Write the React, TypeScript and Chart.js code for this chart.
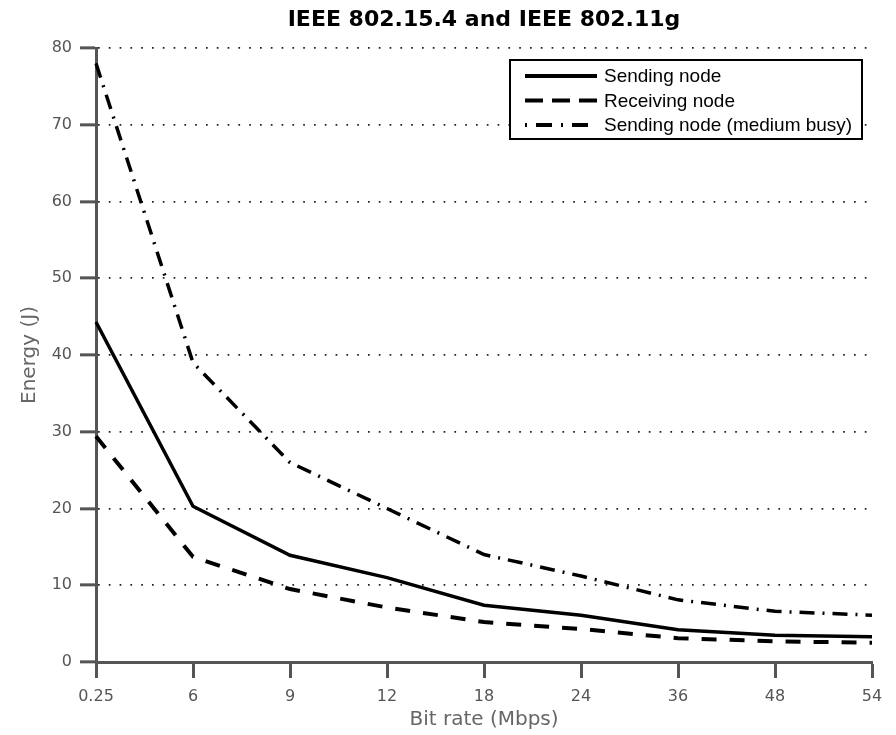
import React, { useEffect, useRef } from "react";
import { Chart, registerables } from "chart.js";

Chart.register(...registerables);

const categories = ["0.25", "6", "9", "12", "18", "24", "36", "48", "54"];
const sendingNode = [44.3, 20.3, 13.9, 11.0, 7.4, 6.1, 4.2, 3.5, 3.3];
const receivingNode = [29.4, 13.7, 9.5, 7.1, 5.2, 4.3, 3.1, 2.7, 2.5];
const sendingBusy = [78.0, 39.0, 26.0, 20.0, 14.0, 11.2, 8.1, 6.6, 6.1];
const yTicks = [0, 10, 20, 30, 40, 50, 60, 70, 80];
const chartTitle = "IEEE 802.15.4 and IEEE 802.11g";

const legendDash: number[][] = [[], [18, 9], [2, 9, 16, 9]];

const titleAndLegend = {
  id: "titleAndLegend",
  afterDatasetsDraw(chart: any) {
    const { ctx, chartArea } = chart;
    ctx.save();
    // title centred over the plot area
    ctx.font = "bold 22px 'DejaVu Sans', sans-serif";
    ctx.fillStyle = "#000";
    ctx.textAlign = "center";
    ctx.textBaseline = "middle";
    ctx.fillText(chartTitle, (chartArea.left + chartArea.right) / 2, 20);

    // boxed legend
    const w = 352;
    const h = 79;
    const x0 = chartArea.right - 10 - w;
    const y0 = chartArea.top + 12;
    ctx.fillStyle = "#ffffff";
    ctx.fillRect(x0, y0, w, h);
    ctx.strokeStyle = "#000";
    ctx.lineWidth = 2;
    ctx.setLineDash([]);
    ctx.strokeRect(x0, y0, w, h);
    ctx.font = "19px 'Liberation Sans', Arial, sans-serif";
    ctx.textBaseline = "middle";
    ctx.textAlign = "left";
    chart.data.datasets.forEach((ds: any, i: number) => {
      const cy = y0 + 16 + i * 24.5;
      ctx.beginPath();
      ctx.setLineDash(legendDash[i]);
      ctx.lineWidth = 4;
      ctx.strokeStyle = "#000";
      ctx.moveTo(x0 + 15, cy);
      ctx.lineTo(x0 + 87, cy);
      ctx.stroke();
      ctx.setLineDash([]);
      ctx.fillStyle = "#000";
      ctx.fillText(ds.label, x0 + 94, cy + 1);
    });
    ctx.restore();
  },
};

export default function App() {
  const ref = useRef<HTMLCanvasElement | null>(null);
  useEffect(() => {
    document.body.style.margin = "0";
    const canvas = ref.current!;
    const chart = new Chart(canvas, {
      type: "line",
      data: {
        labels: categories,
        datasets: [
          {
            label: "Sending node",
            data: sendingNode,
            borderColor: "#000",
            borderWidth: 3.5,
            pointRadius: 0,
            tension: 0,
            fill: false,
          },
          {
            label: "Receiving node",
            data: receivingNode,
            borderColor: "#000",
            borderWidth: 4,
            borderDash: [15, 13],
            pointRadius: 0,
            tension: 0,
            fill: false,
          },
          {
            label: "Sending node (medium busy)",
            data: sendingBusy,
            borderColor: "#000",
            borderWidth: 3.5,
            borderDash: [15, 8, 2, 8],
            pointRadius: 0,
            tension: 0,
            fill: false,
          },
        ],
      },
      options: {
        responsive: false,
        animation: false,
        layout: { padding: { left: 0, right: 24, top: 48, bottom: 0 } },
        plugins: {
          legend: { display: false },
          tooltip: { enabled: false },
          title: { display: false },
        },
        scales: {
          x: {
            type: "category",
            offset: false,
            grid: {
              display: true,
              drawOnChartArea: false,
              drawTicks: true,
              tickLength: 16,
              tickWidth: 3,
              tickColor: "#555",
              color: "#555",
            },
            border: { display: true, color: "#555", width: 3 },
            ticks: {
              color: "#555",
              padding: 9,
              maxRotation: 0,
              autoSkip: false,
              font: { family: "'DejaVu Sans', sans-serif", size: 16 },
            },
            title: {
              display: true,
              text: "Bit rate (Mbps)",
              color: "#666",
              font: { family: "'DejaVu Sans', sans-serif", size: 20 },
              padding: { top: 0, bottom: 3 },
            },
            afterFit: (scale: any) => {
              scale.height = 73;
            },
          },
          y: {
            type: "linear",
            min: 0,
            max: 80,
            afterBuildTicks: (scale: any) => {
              scale.ticks = yTicks.map((v) => ({ value: v }));
            },
            grid: {
              display: true,
              drawOnChartArea: true,
              drawTicks: true,
              tickLength: 16,
              tickWidth: 3,
              tickColor: "#555",
              tickBorderDash: [],
              color: "#222",
              lineWidth: 1.7,
            },
            border: { display: true, color: "#555", width: 3, dash: [1.7, 9.1] },
            ticks: {
              color: "#555",
              padding: 8,
              font: { family: "'DejaVu Sans', sans-serif", size: 16 },
            },
            title: {
              display: true,
              text: "Energy (J)",
              color: "#666",
              font: { family: "'DejaVu Sans', sans-serif", size: 20 },
              padding: { top: 18, bottom: 0 },
            },
            afterFit: (scale: any) => {
              scale.width = 96;
            },
          },
        },
      },
      plugins: [titleAndLegend],
    });
    return () => chart.destroy();
  }, []);
  return <canvas ref={ref} width={896} height={735} style={{ display: "block" }} />;
}
